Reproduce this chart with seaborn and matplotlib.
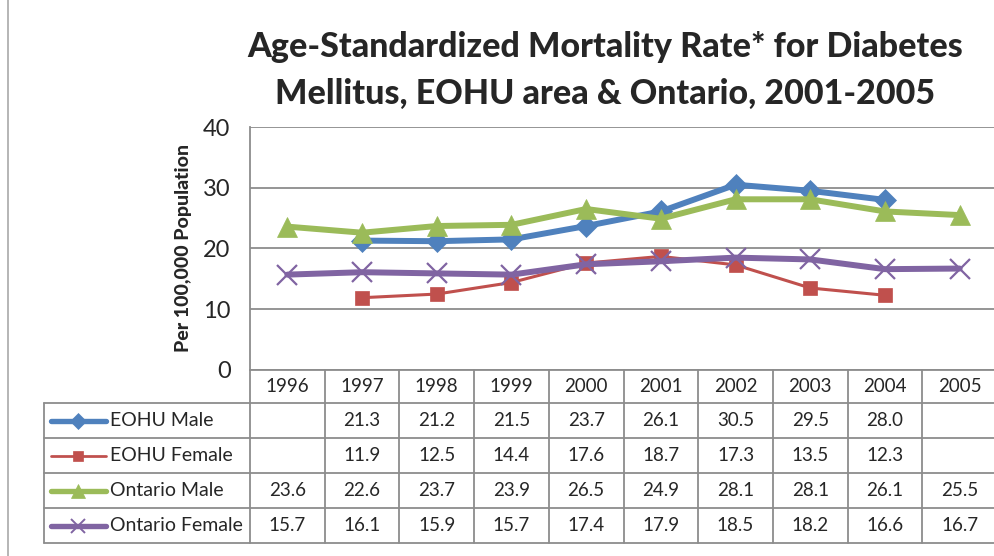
import numpy as np
import pandas as pd
import matplotlib
matplotlib.use("Agg")
import matplotlib.pyplot as plt
import seaborn as sns

years = ["1996", "1997", "1998", "1999", "2000", "2001", "2002", "2003", "2004", "2005"]
eohu_male = [np.nan, 21.3, 21.2, 21.5, 23.7, 26.1, 30.5, 29.5, 28.0, np.nan]
eohu_female = [np.nan, 11.9, 12.5, 14.4, 17.6, 18.7, 17.3, 13.5, 12.3, np.nan]
ontario_male = [23.6, 22.6, 23.7, 23.9, 26.5, 24.9, 28.1, 28.1, 26.1, 25.5]
ontario_female = [15.7, 16.1, 15.9, 15.7, 17.4, 17.9, 18.5, 18.2, 16.6, 16.7]

series_names = ["EOHU Male", "EOHU Female", "Ontario Male", "Ontario Female"]
series_vals = [eohu_male, eohu_female, ontario_male, ontario_female]
colors = ["#4F81BD", "#C0504D", "#9BBB59", "#8064A2"]
markers = ["D", "s", "^", "x"]
msizes = [11, 10, 14, 14]
lwidths = [4.3, 2.2, 4.3, 4.3]

sns.set_style("white")
plt.rcParams["font.family"] = ["Lato", "DejaVu Sans"]

W, H = 995, 556
fig = plt.figure(figsize=(W / 100, H / 100), dpi=100)


def px_axes(x0, y0, x1, y1, **kw):
    # axes placed in pixel coords (top-left origin)
    return fig.add_axes([x0 / W, (H - y1) / H, (x1 - x0) / W, (y1 - y0) / H], **kw)


# ---- line chart ----
plot_left, plot_right, plot_top, plot_bot = 250, 997, 127, 370
ax = px_axes(plot_left, plot_top, plot_right, plot_bot)
pos = np.arange(len(years))
for name, vals, c, m, ms, lw in zip(series_names, series_vals, colors, markers, msizes, lwidths):
    df = pd.DataFrame({"x": pos, "y": vals}).dropna()
    sns.lineplot(data=df, x="x", y="y", ax=ax, color=c, marker=m, markersize=ms,
                 linewidth=lw, markeredgecolor=c, markeredgewidth=1.6 if m == "x" else 0.5,
                 legend=False)
ax.set_xlim(-0.5, 9.5)
ax.set_ylim(0, 40)
ax.set_yticks([0, 10, 20, 30, 40])
ax.set_yticklabels(["0", "10", "20", "30", "40"], fontsize=17)
ax.tick_params(axis="y", length=0, pad=14)
ax.set_xticks([])
ax.set_xlabel("")
ax.set_ylabel("Per 100,000 Population", fontsize=14, fontweight="black", labelpad=8)
ax.grid(axis="y", color="#8c8c8c", linewidth=1.3)
for s in ["top", "right", "bottom"]:
    ax.spines[s].set_visible(False)
ax.spines["left"].set_color("#8c8c8c")
ax.spines["left"].set_linewidth(1.3)
ax.set_axisbelow(True)

fig.text(605 / W, 1 - 47 / H, "Age-Standardized Mortality Rate* for Diabetes",
         ha="center", va="center", fontsize=24.5, fontweight="black")
fig.text(605 / W, 1 - 94 / H, "Mellitus, EOHU area & Ontario, 2001-2005",
         ha="center", va="center", fontsize=24.5, fontweight="black")

# ---- data table (pixel overlay) ----
ov = px_axes(0, 0, W, H)
ov.set_xlim(0, W)
ov.set_ylim(H, 0)
ov.axis("off")
ov.patch.set_alpha(0)

grid_c = "#8c8c8c"
col_w = (plot_right - plot_left) / len(years)
col_x = [plot_left + i * col_w for i in range(len(years) + 1)]
row_y = [370, 403, 438, 473, 508, 543]
tbl_left = 44

# horizontal lines
ov.plot([plot_left, plot_right], [row_y[0], row_y[0]], color=grid_c, lw=1.3)
for y in row_y[1:]:
    ov.plot([tbl_left, plot_right], [y, y], color=grid_c, lw=1.3)
# vertical lines
for x in col_x:
    ov.plot([x, x], [row_y[0], row_y[-1]], color=grid_c, lw=1.3)
ov.plot([tbl_left, tbl_left], [row_y[1], row_y[-1]], color=grid_c, lw=1.3)
# chart border at far left
ov.plot([8, 8], [0, H], color="#b0b0b0", lw=1.3)

for i, yr in enumerate(years):
    ov.text(col_x[i] + col_w / 2, (row_y[0] + row_y[1]) / 2, yr,
            ha="center", va="center", fontsize=13.5)

for r, (name, vals, c, m, ms, lw) in enumerate(zip(series_names, series_vals, colors,
                                                    markers, msizes, lwidths)):
    yc = (row_y[r + 1] + row_y[r + 2]) / 2
    ov.plot([51, 106], [yc, yc], color=c, lw=lw * 0.9)
    ov.plot([78], [yc], color=c, marker=m, markersize=ms * 0.7,
            markeredgewidth=1.4 if m == "x" else 0.5)
    ov.text(110, yc, name, ha="left", va="center", fontsize=14)
    for i, v in enumerate(vals):
        if not np.isnan(v):
            ov.text(col_x[i] + col_w / 2, yc, f"{v:.1f}", ha="center", va="center",
                    fontsize=13.5)

fig.savefig("out.png", dpi=100)
